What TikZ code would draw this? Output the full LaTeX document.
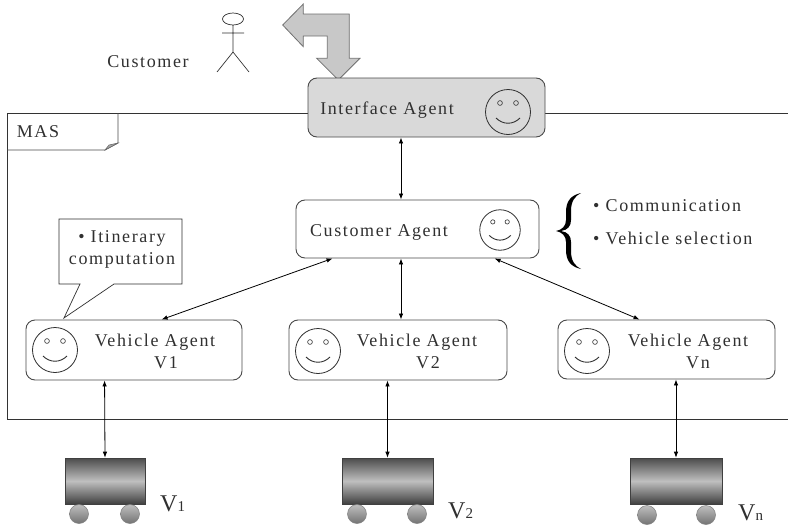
\documentclass[tikz,border=0pt]{standalone}
\usepackage{fontspec}
\setmainfont[LetterSpace=9]{Liberation Serif}
\usetikzlibrary{arrows.meta,calc}

\definecolor{inkgray}{HTML}{303030}
\definecolor{boxline}{HTML}{4A4A4A}
\definecolor{ifacefill}{HTML}{D9D9D9}
\definecolor{bigarrowfill}{HTML}{C8C8C8}
\definecolor{bigarrowline}{HTML}{707070}

\tikzset{
  agentbox/.style={draw=boxline, line width=0.9pt, rounded corners=9pt, inner sep=0pt},
  lbl/.style={inner sep=0pt, text=inkgray, font=\fontsize{18}{20}\selectfont},
  biarrow/.style={line width=0.8pt, {Latex[length=6pt,width=4.5pt]}-{Latex[length=6pt,width=4.5pt]}},
  truckbody/.style={draw=black!75, line width=0.6pt, inner sep=0pt,
    top color=black!70, bottom color=black!75, middle color=black!25},
  wheel/.style={circle, draw=black!50, line width=0.5pt, inner sep=0pt, minimum size=19pt,
    top color=black!25, bottom color=black!55},
  smiley/.pic={
    \draw[inkgray, line width=0.8pt] (0,0) circle (22.5);
    \draw[inkgray, line width=0.6pt] (-8,-9) circle (2.4) (8,-9) circle (2.4);
    \draw[inkgray, line width=0.9pt] (-12,6) .. controls (-5,13) and (5,13) .. (12,6);
  }
}

\begin{document}
\begin{tikzpicture}[x=1pt,y=-1pt]
  \useasboundingbox[fill=white] (0,0) rectangle (788,530);

  % multi-agent system frame, open to the right
  \draw[black!80, line width=0.9pt] (788,113) -- (7,113) -- (7,419) -- (788,419);
  % frame tab with curled corner
  \draw[black!70, line width=0.8pt] (7,150) -- (105,150) -- (118,143) -- (118,113);
  \filldraw[fill=black!35, draw=black!60, line width=0.5pt] (105,150) -- (109,145) -- (118,143) -- cycle;
  \node[lbl] (mas) at (38,132) {MAS};

  % customer as a stick figure
  \node[lbl] (customer) at (148,62) {Customer};
  \draw[inkgray, line width=0.7pt]
    (233,19) ellipse (10.5 and 6)
    (233,25) -- (233,52)
    (222,33) -- (244,33)
    (217,72) -- (233,52) -- (249,72);

  % bent two-way arrow between customer and interface agent
  \filldraw[fill=bigarrowfill, draw=bigarrowline, line width=0.8pt]
    (282.7,25) -- (303.3,4) -- (303.3,14) -- (349.3,14) -- (349.3,58.3) -- (360,58.3)
    -- (338.3,80) -- (316.7,58.3) -- (327.3,58.3) -- (327.3,36) -- (303.3,36)
    -- (303.3,46.7) -- cycle;

  % interface agent
  \node[agentbox, fill=ifacefill, minimum width=237pt, minimum height=59pt] (ia) at (426.5,107.5) {};
  \node[lbl] (ia-t) at (387,110) {Interface Agent};
  \pic at (508,112) {smiley};

  % customer agent
  \node[agentbox, fill=white, minimum width=243pt, minimum height=58pt] (ca) at (417.5,229) {};
  \node[lbl] (ca-t) at (379,232) {Customer Agent};
  \pic[scale=0.9] at (500,230) {smiley};

  % responsibilities of the customer agent, grouped by a curly brace
  \fill[black]
    (581,193) .. controls (572,195) and (566,200) .. (566,212) -- (566,220)
    .. controls (566,226) and (562,230) .. (556,231)
    .. controls (562,232) and (566,236) .. (566,242) -- (566,250)
    .. controls (566,262) and (572,267) .. (581,269)
    .. controls (575,266) and (571,261) .. (571,251) -- (571,242)
    .. controls (571,236) and (568,232) .. (561,231)
    .. controls (568,230) and (571,226) .. (571,220) -- (571,211)
    .. controls (571,201) and (575,196) .. (581,193) -- cycle;
  \node[lbl, anchor=west] (comm) at (593,206) {• Communication};
  \node[lbl, anchor=west] (vsel) at (593,238) {• Vehicle selection};

  % vehicle agents
  \node[agentbox, fill=white, minimum width=216pt, minimum height=60pt] (v1) at (134,350) {};
  \node[lbl] (v1-t) at (155,342) {Vehicle Agent};
  \node[lbl] (v1-n) at (166,363) {V1};
  \pic at (55,350) {smiley};

  \node[agentbox, fill=white, minimum width=218pt, minimum height=60pt] (v2) at (398,350) {};
  \node[lbl] (v2-t) at (417,342) {Vehicle Agent};
  \node[lbl] (v2-n) at (428,363) {V2};
  \pic at (318,351) {smiley};

  \node[agentbox, fill=white, minimum width=217pt, minimum height=59pt] (vn) at (666.5,349.5) {};
  \node[lbl] (vn-t) at (688,342) {Vehicle Agent};
  \node[lbl] (vn-n) at (698,363) {Vn};
  \pic at (587,351) {smiley};

  % itinerary callout of vehicle agent 1
  \draw[inkgray, line width=0.7pt, fill=white]
    (59,219) -- (182,219) -- (182,284) -- (114,284) -- (64,318) -- (80,284) -- (59,284) -- cycle;
  \node[lbl] (itin1) at (122,238) {• Itinerary};
  \node[lbl] (itin2) at (122,260) {computation};

  % vehicles
  \node[truckbody, minimum width=80pt, minimum height=46pt] (t1) at (105,481) {};
  \node[wheel] (t1a) at (79,514) {};
  \node[wheel] (t1b) at (130,514) {};
  \node[inner sep=0pt, text=inkgray, anchor=base west] (t1-l) at (160,511)
    {\fontsize{24}{24}\selectfont V\fontsize{15}{15}\selectfont 1};

  \node[truckbody, minimum width=91pt, minimum height=46pt] (t2) at (387.5,481) {};
  \node[wheel] (t2a) at (357,514) {};
  \node[wheel] (t2b) at (417,514) {};
  \node[inner sep=0pt, text=inkgray, anchor=base west] (t2-l) at (448,518)
    {\fontsize{24}{24}\selectfont V\fontsize{15}{15}\selectfont 2};

  \node[truckbody, minimum width=92pt, minimum height=46pt] (tn) at (676,481) {};
  \node[wheel] (tna) at (647,515) {};
  \node[wheel] (tnb) at (706,515) {};
  \node[inner sep=0pt, text=inkgray, anchor=base west] (tn-l) at (738,520)
    {\fontsize{24}{24}\selectfont V\fontsize{15}{15}\selectfont n};

  % message links
  \coordinate (colx) at (401,0);
  \draw[biarrow] (ia.south -| colx) -- (ca.north -| colx);
  \draw[biarrow] (ca.south -| colx) -- (v2.north -| colx);
  \draw[biarrow] ($(ca.south west)+(37,0)$) -- ($(v1.north west)+(136,0)$);
  \draw[biarrow] ($(ca.south west)+(199,0)$) -- ($(vn.north west)+(82,0)$);
  \draw[biarrow] ($(v1.south west)+(79,0)$) -- (t1.north);
  \draw[biarrow] (v2.south -| t2.north) -- (t2.north);
  \draw[biarrow] (vn.south -| tn.north) -- (tn.north);
\end{tikzpicture}
\end{document}
